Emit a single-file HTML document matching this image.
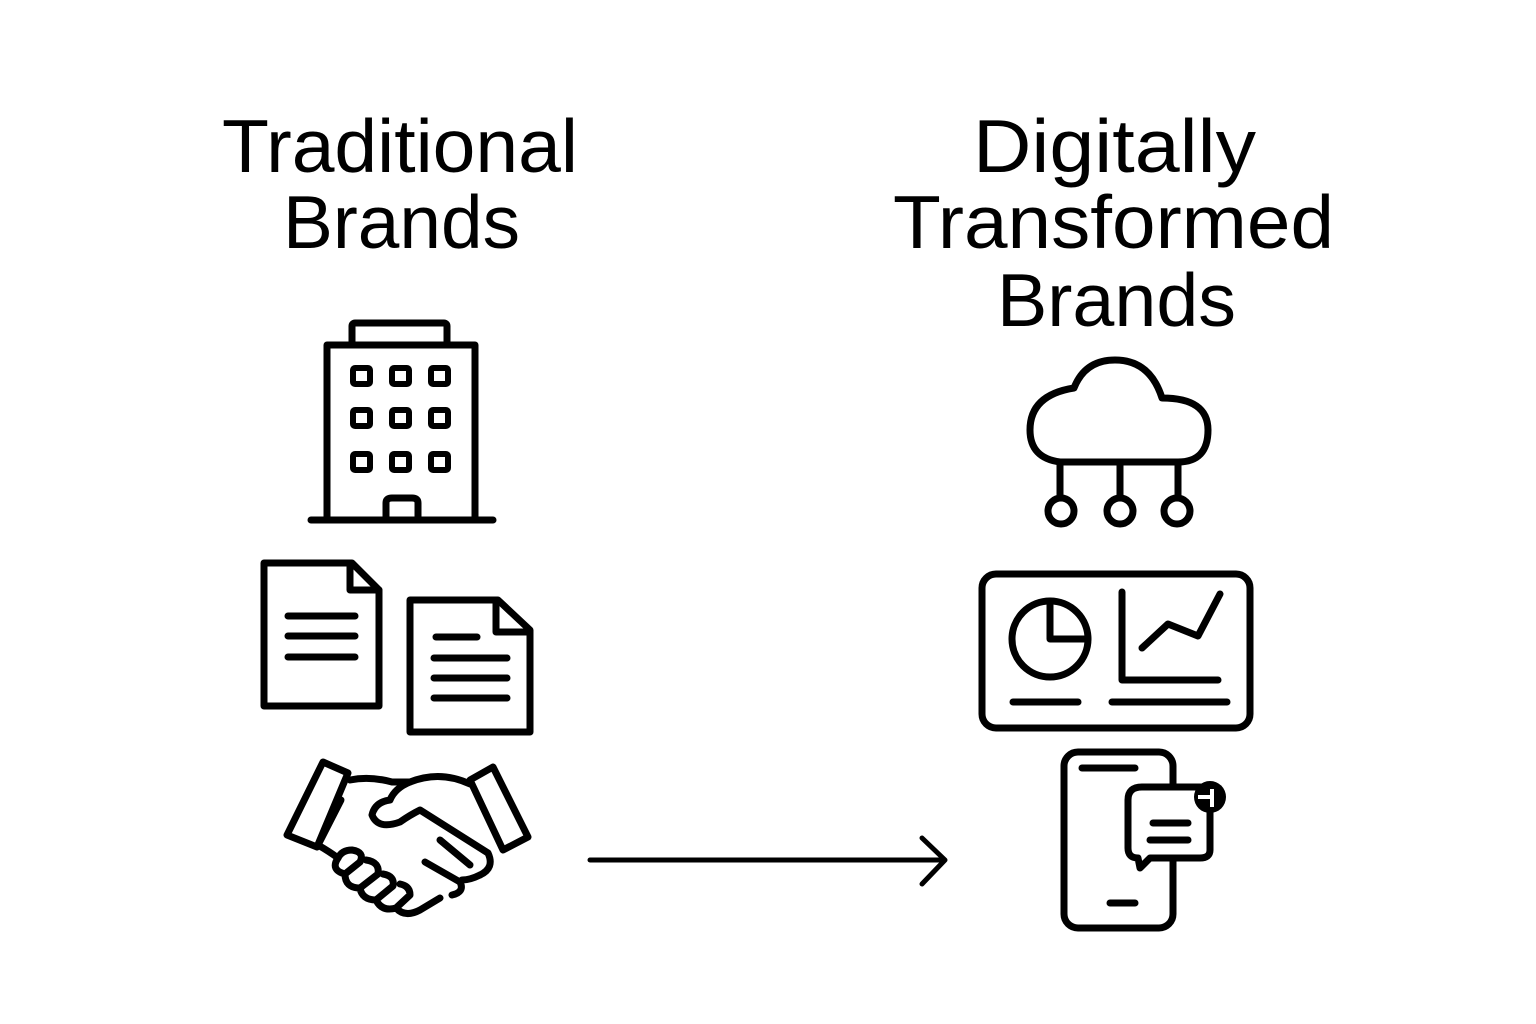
<!DOCTYPE html>
<html><head><meta charset="utf-8"><style>
html,body{margin:0;padding:0;background:#fff}
svg{display:block}
text{font-family:"Liberation Sans","DejaVu Sans",sans-serif;font-size:75px;fill:#000}
</style></head><body>
<svg width="1536" height="1024" viewBox="0 0 1536 1024" xmlns="http://www.w3.org/2000/svg">
<rect width="1536" height="1024" fill="#fff"/>
<text x="222" y="172" textLength="356" lengthAdjust="spacingAndGlyphs">Traditional</text>
<text x="283" y="248" textLength="237" lengthAdjust="spacingAndGlyphs">Brands</text>
<text x="973" y="172" textLength="283" lengthAdjust="spacingAndGlyphs">Digitally</text>
<text x="893" y="248" textLength="441" lengthAdjust="spacingAndGlyphs">Transformed</text>
<text x="997" y="326" textLength="239" lengthAdjust="spacingAndGlyphs">Brands</text>
<g fill="none" stroke="#000" stroke-width="7" stroke-linecap="round" stroke-linejoin="round">
<rect x="352" y="323" width="95" height="22" rx="3"/>
<rect x="327" y="345" width="148" height="175"/>
<line x1="311" y1="520" x2="493" y2="520"/>
<g stroke-width="6">
<rect x="353" y="368" width="17" height="16" rx="2"/><rect x="392" y="368" width="17" height="16" rx="2"/><rect x="431" y="368" width="17" height="16" rx="2"/>
<rect x="353" y="410" width="17" height="16" rx="2"/><rect x="392" y="410" width="17" height="16" rx="2"/><rect x="431" y="410" width="17" height="16" rx="2"/>
<rect x="353" y="454" width="17" height="16" rx="2"/><rect x="392" y="454" width="17" height="16" rx="2"/><rect x="431" y="454" width="17" height="16" rx="2"/>
</g>
<path d="M386 520 V503 Q386 498 392 498 H412 Q418 498 418 503 V520"/>
<path d="M264 563 H352 L379 590 V706 H264 Z"/><path d="M350 563 V590 H379"/>
<line x1="288" y1="616" x2="355" y2="616"/><line x1="288" y1="636" x2="355" y2="636"/><line x1="288" y1="657" x2="355" y2="657"/>
<path d="M410 600 H498 L530 630 V732 H410 Z"/><path d="M496 600 V632 H530"/>
<line x1="436" y1="637" x2="477" y2="637"/><line x1="434" y1="658" x2="507" y2="658"/><line x1="434" y1="678" x2="507" y2="678"/><line x1="434" y1="698" x2="507" y2="698"/>
<path d="M323 762 L348 773 L317 847 L287 835 Z"/>
<path d="M470 780 L493 767 L528 837 L503 850 Z"/>
<path d="M350 780 Q370 776 392 782 L410 782"/>
<path d="M470 784 Q440 770 410 782 Q395 788 390 800 Q375 802 372 815 Q378 830 400 822 Q410 815 420 810 L488 853 Q495 868 480 875"/>
<path d="M341 800 L318 845 Q330 852 338 858"/>
<path d="M440 840 L470 865"/>
<path d="M425 862 L460 882 Q465 892 452 895"/>
<path d="M480 875 Q470 880 462 880"/>
<path d="M338 858 Q330 870 345 874 L360 862 Q365 852 352 850 Q342 850 338 858 M345 874 Q345 888 360 888 L378 874 Q380 862 366 860 M360 888 Q362 900 376 900 L393 886 Q395 876 383 874 M376 900 Q382 912 396 908 L410 895 Q410 886 400 884 M396 908 Q405 918 420 910 L440 898"/>
<line x1="590" y1="860" x2="943" y2="860" stroke-width="5"/>
<path d="M922 838 L945 860 L922 884" stroke-width="5"/>
<path d="M1060 462 Q1030 458 1030 430 Q1030 395 1074 388 Q1085 360 1115 360 Q1150 360 1162 398 Q1208 398 1208 430 Q1208 462 1178 462 Z"/>
<line x1="1060" y1="462" x2="1060" y2="498"/><line x1="1120" y1="462" x2="1120" y2="498"/><line x1="1178" y1="462" x2="1178" y2="498"/>
<circle cx="1061" cy="511" r="13"/><circle cx="1120" cy="511" r="13"/><circle cx="1177" cy="511" r="13"/>
<rect x="982" y="574" width="268" height="154" rx="14"/>
<circle cx="1050" cy="639" r="38"/>
<path d="M1050 601 V639 H1088"/>
<path d="M1122 592 V680 H1218"/>
<path d="M1142 648 L1168 624 L1198 636 L1220 594"/>
<line x1="1013" y1="702" x2="1078" y2="702"/><line x1="1112" y1="702" x2="1227" y2="702"/>
<rect x="1064" y="752" width="109" height="176" rx="14"/>
<line x1="1082" y1="768" x2="1135" y2="768"/><line x1="1110" y1="903" x2="1135" y2="903"/>
<path d="M1142 787 H1200 Q1210 787 1210 797 V850 Q1210 858 1200 858 H1150 L1140 868 L1138 858 Q1128 858 1128 848 V800 Q1128 787 1142 787 Z" fill="#fff"/>
<line x1="1153" y1="823" x2="1188" y2="823"/><line x1="1150" y1="840" x2="1188" y2="840"/>
</g>
<circle cx="1210" cy="797" r="16" fill="#000"/>
<path d="M1198 797 H1212 M1212 789 V807" stroke="#fff" stroke-width="4" fill="none"/>
</svg>
</body></html>
